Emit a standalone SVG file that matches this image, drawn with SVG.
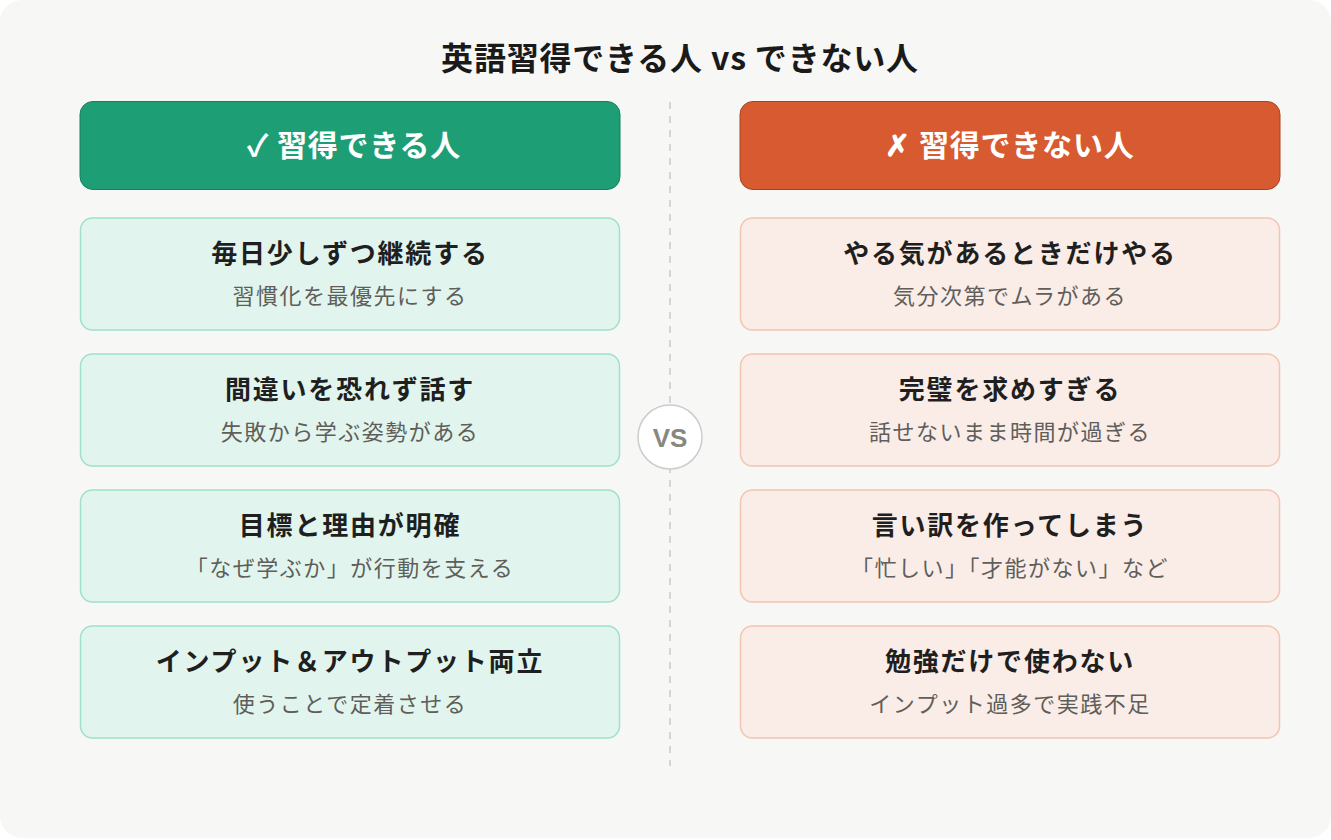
<svg xmlns="http://www.w3.org/2000/svg" width="1331" height="840" viewBox="0 0 1331 840">
<style>
text{font-family:"Noto Sans CJK JP","Noto Sans",sans-serif;text-anchor:middle;}
.title{font-size:32px;font-weight:700;fill:#1a1a1a;letter-spacing:0.8px;}
.hdr{font-size:30px;font-weight:700;fill:#ffffff;letter-spacing:0.8px;}
.h{font-size:26px;font-weight:700;fill:#1f1f1f;letter-spacing:1.8px;}
.s{font-size:22px;font-weight:400;fill:#5f5e5a;letter-spacing:1.5px;}
.cg{fill:#e1f5ee;stroke:#9fe1cb;stroke-width:1.5;}
.cr{fill:#faece7;stroke:#f5c4b3;stroke-width:1.5;}
</style>
<rect x="0" y="0" width="1331" height="840" fill="#ffffff"/>
<rect x="0" y="0" width="1331" height="838" rx="22" fill="#f7f7f5"/>
<text class="title" x="680" y="70">英語習得できる人 vs できない人</text>
<g id="connectors">
<line x1="670" y1="102" x2="670" y2="766" stroke="#cccccc" stroke-width="1.5" stroke-dasharray="7 7"/>
</g>
<g id="vs">
<circle cx="670" cy="437" r="32" fill="#ffffff" stroke="#cccccc" stroke-width="1.5"/>
<text x="670" y="447" style="font-family:'Liberation Sans',Arial,sans-serif;font-size:26px;font-weight:700;fill:#888780;">VS</text>
</g>
<g id="header-good">
<rect x="80" y="101.5" width="540" height="88" rx="13" fill="#1d9e75" stroke="#16805f" stroke-width="1"/>
<text class="hdr" x="354" y="156">✓ 習得できる人</text>
</g>
<g id="header-bad">
<rect x="740" y="101.5" width="540" height="88" rx="13" fill="#d85a30" stroke="#a8431f" stroke-width="1"/>
<text class="hdr" x="1010" y="156">✗ 習得できない人</text>
</g>
<g id="good1"><rect class="cg" x="80.5" y="218" width="539" height="112" rx="12"/>
<text class="h" x="350" y="263">毎日少しずつ継続する</text><text class="s" x="350" y="304">習慣化を最優先にする</text></g>
<g id="good2"><rect class="cg" x="80.5" y="354" width="539" height="112" rx="12"/>
<text class="h" x="350" y="399">間違いを恐れず話す</text><text class="s" x="350" y="440">失敗から学ぶ姿勢がある</text></g>
<g id="good3"><rect class="cg" x="80.5" y="490" width="539" height="112" rx="12"/>
<text class="h" x="350" y="535">目標と理由が明確</text><text class="s" x="350" y="576">「なぜ学ぶか」が行動を支える</text></g>
<g id="good4"><rect class="cg" x="80.5" y="626" width="539" height="112" rx="12"/>
<text class="h" x="350" y="671">インプット＆アウトプット両立</text><text class="s" x="350" y="712">使うことで定着させる</text></g>
<g id="bad1"><rect class="cr" x="740.5" y="218" width="539" height="112" rx="12"/>
<text class="h" x="1010" y="263">やる気があるときだけやる</text><text class="s" x="1010" y="304">気分次第でムラがある</text></g>
<g id="bad2"><rect class="cr" x="740.5" y="354" width="539" height="112" rx="12"/>
<text class="h" x="1010" y="399">完璧を求めすぎる</text><text class="s" x="1010" y="440">話せないまま時間が過ぎる</text></g>
<g id="bad3"><rect class="cr" x="740.5" y="490" width="539" height="112" rx="12"/>
<text class="h" x="1010" y="535">言い訳を作ってしまう</text><text class="s" x="1010" y="576">「忙しい」「才能がない」など</text></g>
<g id="bad4"><rect class="cr" x="740.5" y="626" width="539" height="112" rx="12"/>
<text class="h" x="1010" y="671">勉強だけで使わない</text><text class="s" x="1010" y="712">インプット過多で実践不足</text></g>
</svg>
